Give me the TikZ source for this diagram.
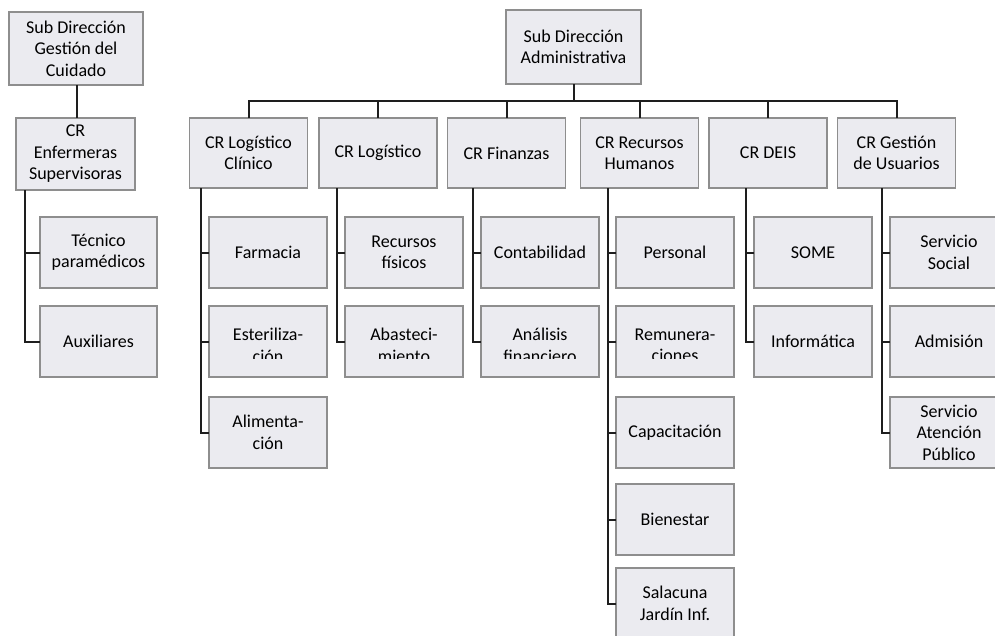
\documentclass[tikz,border=0pt]{standalone}
\usepackage{fontspec}
\setmainfont{Carlito}
\usetikzlibrary{calc}
\definecolor{boxfill}{HTML}{EBEBF0}
\definecolor{boxline}{HTML}{8E8E8E}
\definecolor{wirecol}{HTML}{1E1E1E}
\tikzset{
  unit/.style={draw=boxline, line width=1.4pt, fill=boxfill, anchor=north west,
    minimum width=118pt, minimum height=71pt, inner sep=0pt, outer sep=0pt,
    align=center, font=\fontsize{18}{21.5}\selectfont},
  head/.style={unit, minimum height=70pt},
  top/.style={unit, minimum width=135pt, minimum height=74pt},
  label/.style={inner sep=0pt, outer sep=0pt, align=center, font=\fontsize{18}{21.5}\selectfont},
  wire/.style={draw=wirecol, line width=2pt},
}
\begin{document}
\begin{tikzpicture}[x=1pt,y=-1pt]
\useasboundingbox (0,0) rectangle (995,635);
\clip (0,0) rectangle (995,635);

% ---- nursing branch (left) ----
\node[top, minimum width=134pt, minimum height=73pt] (gsd) at (9,12) {Sub Dirección\\Gestión del\\Cuidado};
\node[unit, minimum width=119pt, minimum height=72pt] (gcr) at (16,118) {CR\\Enfermeras\\Supervisoras};
\node[unit, minimum width=117pt] (gtec) at (40,217) {Técnico\\paramédicos};
\node[unit, minimum width=117pt] (gaux) at (40,306) {Auxiliares};

% ---- administrative branch ----
\node[top] (adm) at (506,10) {Sub Dirección\\Administrativa};

\node[head] (p1) at (189.5,118) {CR Logístico\\Clínico};
\node[head] (p2) at (319,118) {CR Logístico};
\node[head] (p3) at (447.5,118) {CR Finanzas};
\node[head] (p4) at (580.5,118) {CR Recursos\\Humanos};
\node[head] (p5) at (709,118) {CR DEIS};
\node[head] (p6) at (837.5,118) {CR Gestión\\de Usuarios};

% first row of units
\node[unit] (farm) at (209,217) {Farmacia};
\node[unit] (recf) at (345,217) {Recursos\\físicos};
\node[unit] (cont) at (481,217) {Contabilidad};
\node[unit] (pers) at (616,217) {Personal};
\node[unit] (some) at (754,217) {SOME};
\node[unit] (ssoc) at (890,217) {Servicio\\Social};

% second row of units (long labels are cut at the box's text area)
\node[unit] (este) at (209,306) {};
\node[unit] (abas) at (345,306) {};
\node[unit] (anal) at (481,306) {};
\node[unit] (remu) at (616,306) {};
\node[unit] (info) at (754,306) {Informática};
\node[unit] (admi) at (890,306) {Admisión};
\begin{scope}
  \clip (0,300) rectangle (995,358);
  \node[label] (este-t) at ($(este.center)+(0,4)$) {Esteriliza-\\ción};
  \node[label] (abas-t) at ($(abas.center)+(0,4)$) {Abasteci-\\miento};
  \node[label] (anal-t) at ($(anal.center)+(0,4)$) {Análisis\\financiero};
  \node[label] (remu-t) at ($(remu.center)+(0,4)$) {Remunera-\\ciones};
\end{scope}

% further rows
\node[unit] (alim) at (209,397) {Alimenta-\\ción};
\node[unit] (capa) at (616,397) {Capacitación};
\node[unit] (sap)  at (890,397) {Servicio\\Atención\\Público};
\node[unit] (bien) at (616,484) {Bienestar};
\node[unit] (sala) at (616,568) {Salacuna\\Jardín Inf.};

% ---- connectors ----
\draw[wire] (gsd.south -| 77,0) -- (gcr.north -| 77,0);
\draw[wire] ($(gcr.south -| gtec.west)+(-15,0)$) |- (gaux.west);
\draw[wire] (gtec.west) -- ++(-15,0);

\coordinate (bus) at ($(adm.south)+(0,17)$);
\draw[wire] (adm.south) -- (bus);
\foreach \p in {p1,p2,p3,p4,p5,p6}
  \draw[wire] (\p.north) |- (bus);

\draw[wire] ($(p1.south -| farm.west)+(-8,0)$) |- (alim.west);
\draw[wire] ($(p2.south -| recf.west)+(-8,0)$) |- (abas.west);
\draw[wire] ($(p3.south -| cont.west)+(-8,0)$) |- (anal.west);
\draw[wire] ($(p4.south -| pers.west)+(-8,0)$) |- (sala.west);
\draw[wire] ($(p5.south -| some.west)+(-8,0)$) |- (info.west);
\draw[wire] ($(p6.south -| ssoc.west)+(-8,0)$) |- (sap.west);
\foreach \c in {farm,este,recf,cont,pers,remu,capa,bien,some,ssoc,admi}
  \draw[wire] (\c.west) -- ++(-8,0);
\end{tikzpicture}
\end{document}
